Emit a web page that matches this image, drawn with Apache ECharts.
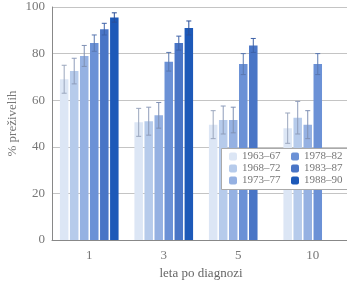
<!DOCTYPE html>
<html>
<head>
<meta charset="utf-8">
<script src="https://cdn.jsdelivr.net/npm/echarts@6/dist/echarts.min.js"></script>
<style>
  html, body { margin: 0; padding: 0; background: #fff; }
  #chart { width: 347px; height: 281px; }
</style>
</head>
<body>
<div id="chart"></div>
<script>
// leta po diagnozi
var categories = ['1', '3', '5', '10'];
var periods = ['1963–67', '1968–72', '1973–77', '1978–82', '1983–87', '1988–90'];

// % preživelih po obdobjih (null = ni podatka)
var p1963 = [69, 50.5, 49.5, 48];
var p1968 = [72.5, 51, 51.5, 52.5];
var p1973 = [79, 53.5, 51.5, 49.5];
var p1978 = [84.5, 76.5, 75.5, 75.5];
var p1983 = [90.5, 84.5, 83.5, null];
var p1988 = [95.5, 91, null, null];

// napake (polovica intervala)
var e1963 = [6, 6, 6, 6.5];
var e1968 = [5.5, 6, 6, 7];
var e1973 = [4.5, 5.5, 5.5, 6];
var e1978 = [3.5, 4, 4.5, 4.5];
var e1983 = [2.5, 3, 3, null];
var e1988 = [2, 3, null, null];

var yTicks = [0, 20, 40, 60, 80, 100];

var values = [p1963, p1968, p1973, p1978, p1983, p1988];
var errors = [e1963, e1968, e1973, e1978, e1983, e1988];
var colors = ['#dce6f5', '#b6cbeb', '#95b1e2', '#6b91d6', '#4975c6', '#1d59b8'];
var errColors = ['#9aa6bd', '#8e9cba', '#7f90b4', '#5a78b0', '#3e62a8', '#2a4f98'];

var barW = 8.5, gapRatio = 0.18;
var pitch = barW * (1 + gapRatio);

var chart = echarts.init(document.getElementById('chart'));

var series = [];
values.forEach(function (vals, i) {
    series.push({
        name: periods[i],
        type: 'bar',
        data: vals,
        barWidth: barW,
        barGap: (gapRatio * 100) + '%',
        itemStyle: { color: colors[i] },
        silent: true
    });
});
values.forEach(function (vals, i) {
    var d = [];
    vals.forEach(function (v, k) {
        if (v != null) d.push([k, v - errors[i][k], v + errors[i][k]]);
    });
    series.push({
        type: 'custom',
        data: d,
        z: 5,
        silent: true,
        renderItem: function (params, api) {
            var off = -(6 * barW + 5 * barW * gapRatio) / 2 + barW / 2 + i * pitch;
            var lo = api.coord([api.value(0), api.value(1)]);
            var hi = api.coord([api.value(0), api.value(2)]);
            var x = lo[0] + off;
            var c = 2.5;
            var st = { stroke: errColors[i], lineWidth: 1 };
            return {
                type: 'group',
                children: [
                    { type: 'line', shape: { x1: x, y1: lo[1], x2: x, y2: hi[1] }, style: st },
                    { type: 'line', shape: { x1: x - c, y1: hi[1], x2: x + c, y2: hi[1] }, style: st },
                    { type: 'line', shape: { x1: x - c, y1: lo[1], x2: x + c, y2: lo[1] }, style: st }
                ]
            };
        }
    });
});

var legendText = { fontFamily: 'Liberation Serif', fontSize: 11, color: '#777' };

chart.setOption({
    animation: false,
    grid: { left: 52, top: 7, width: 298, height: 233, outerBoundsMode: 'none' },
    graphic: [{
        type: 'rect',
        left: 221, top: 148,
        shape: { width: 130, height: 41 },
        style: { fill: '#fff', stroke: '#aaa', lineWidth: 1 },
        z: 100
    }],
    legend: [{
        data: periods.slice(0, 3),
        orient: 'vertical',
        left: 229, top: 149,
        itemWidth: 8, itemHeight: 8, itemGap: 1,
        padding: [2, 0, 0, 0],
        textStyle: legendText,
        z: 110
    }, {
        data: periods.slice(3),
        orient: 'vertical',
        left: 291, top: 149,
        itemWidth: 8, itemHeight: 8, itemGap: 1,
        padding: [2, 0, 0, 0],
        textStyle: legendText,
        z: 110
    }],
    xAxis: {
        type: 'category',
        data: categories,
        name: 'leta po diagnozi',
        nameLocation: 'middle',
        nameGap: 27,
        nameMoveOverlap: false,
        nameTextStyle: { fontFamily: 'Liberation Serif', fontSize: 13, color: '#666' },
        axisLine: { lineStyle: { color: '#888' } },
        axisTick: { show: false },
        axisLabel: { fontFamily: 'Liberation Serif', fontSize: 13, color: '#777', margin: 9 }
    },
    yAxis: {
        type: 'value',
        min: yTicks[0], max: yTicks[yTicks.length - 1], interval: 20,
        name: '% preživelih',
        nameLocation: 'middle',
        nameGap: 33,
        nameMoveOverlap: false,
        nameTextStyle: { fontFamily: 'Liberation Serif', fontSize: 13, color: '#777' },
        axisLine: { show: true, lineStyle: { color: '#888' } },
        axisTick: { show: false },
        splitLine: { lineStyle: { color: '#c4c4c4' } },
        axisLabel: { fontFamily: 'Liberation Serif', fontSize: 13, color: '#777', margin: 7 }
    },
    series: series
});
</script>
</body>
</html>
